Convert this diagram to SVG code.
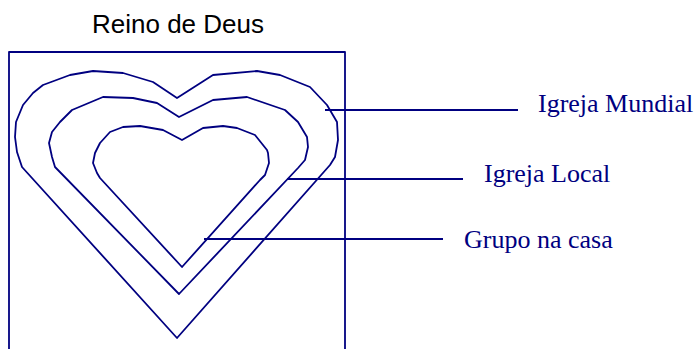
<svg xmlns="http://www.w3.org/2000/svg" width="697" height="349" viewBox="0 0 697 349">
<style>
.ln{fill:none;stroke:#000080;stroke-width:1.8;stroke-linejoin:round;stroke-linecap:butt}
.lbl{font-family:"Liberation Serif","Times New Roman",serif;font-size:26px;fill:#000080}
.title{font-family:"Liberation Sans",Arial,sans-serif;font-size:26px;fill:#000000}
</style>
<rect width="697" height="349" fill="#ffffff"/>
<g id="reino">
<path class="ln" d="M9,349 V52 H345 V349"/>
<text class="title" x="92" y="33">Reino de Deus</text>
</g>
<g id="igreja-mundial">
<path class="ln" d="M177,98 L153,82 L123,73 L93,71 L70,75 L43,85 L33,93 L23,105 L16,122 L15,137 L17,152 L22,167 L177,338 L330,165 L335,157 L338,140 L337,122 L327,105 L310,87 L280,75 L257,71 L213,75 Z"/>
<text class="lbl" x="538" y="112">Igreja Mundial</text>
</g>
<g id="igreja-local">
<path class="ln" d="M179,117 L157,103 L133,98 L103,97 L72,110 L60,122 L52,132 L49,143 L52,157 L55,167 L179,294 L298,168 L305,160 L308,147 L307,137 L298,122 L285,110 L247,97 L213,100 Z"/>
<text class="lbl" x="484" y="182">Igreja Local</text>
</g>
<g id="grupo-na-casa">
<path class="ln" d="M182,140 L163,130 L140,126 L123,127 L110,132 L100,143 L95,153 L93,163 L97,173 L100,178 L182,267 L260,180 L265,175 L269,163 L268,153 L267,150 L255,135 L237,128 L223,126 L203,128 Z"/>
<text class="lbl" x="464" y="248">Grupo na casa</text>
</g>
<g id="connectors">
<line class="ln" x1="325" y1="110" x2="518" y2="110"/>
<line class="ln" x1="287" y1="179" x2="463" y2="179"/>
<line class="ln" x1="204" y1="239" x2="443" y2="239"/>
</g>
</svg>
